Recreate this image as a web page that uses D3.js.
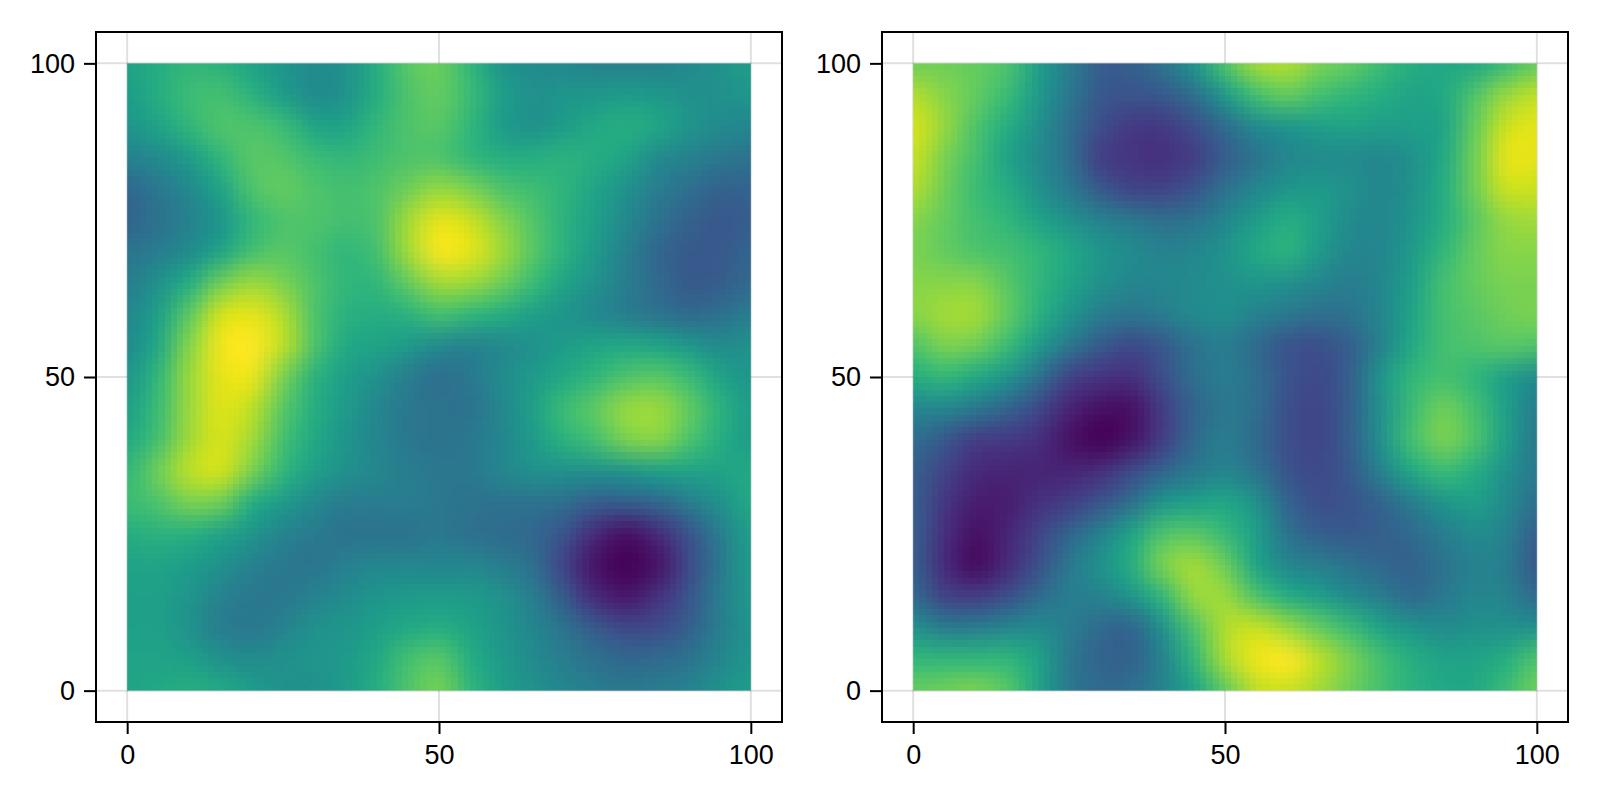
<!DOCTYPE html>
<html><head><meta charset="utf-8">
<script src="https://cdn.jsdelivr.net/npm/d3@7"></script>
<style>html,body{margin:0;padding:0;background:#fff}svg{display:block}</style>
</head><body><svg id="c" width="1600" height="800"></svg>
<script>
const tickLabels=[0,50,100];
// rows from y=100 down to y=0 (step 5), columns x=0..100 (step 5); colour values 0..1
const leftValues=[
[.58,.62,.66,.64,.58,.52,.48,.50,.62,.74,.77,.66,.52,.48,.47,.44,.43,.44,.47,.50,.56],
[.55,.62,.68,.70,.64,.55,.48,.50,.62,.72,.76,.68,.56,.50,.52,.53,.55,.53,.50,.50,.52],
[.52,.58,.66,.72,.72,.68,.58,.58,.66,.72,.74,.66,.55,.50,.55,.60,.62,.59,.52,.48,.46],
[.44,.48,.55,.66,.74,.73,.68,.66,.69,.72,.72,.66,.62,.62,.64,.62,.58,.48,.44,.40,.38],
[.33,.40,.47,.58,.72,.76,.72,.70,.72,.78,.84,.80,.72,.69,.65,.58,.50,.42,.36,.31,.32],
[.32,.37,.44,.52,.66,.72,.72,.70,.72,.86,.96,.92,.82,.73,.64,.56,.47,.38,.31,.27,.29],
[.38,.42,.48,.58,.70,.74,.70,.66,.70,.86,.99,.96,.86,.74,.64,.54,.43,.33,.28,.28,.32],
[.42,.50,.62,.78,.85,.80,.72,.66,.66,.76,.86,.85,.78,.68,.58,.50,.42,.34,.28,.29,.34],
[.46,.56,.75,.93,.96,.88,.72,.64,.62,.64,.70,.66,.62,.56,.52,.47,.42,.38,.34,.36,.42],
[.48,.60,.82,.98,1.0,.90,.72,.60,.58,.54,.47,.44,.47,.50,.55,.58,.60,.58,.53,.48,.50],
[.52,.66,.85,.96,.97,.80,.64,.56,.50,.42,.36,.40,.48,.54,.60,.66,.72,.74,.68,.58,.52],
[.56,.68,.85,.95,.90,.74,.62,.54,.46,.40,.38,.38,.46,.56,.68,.75,.84,.85,.76,.64,.55],
[.60,.70,.86,.94,.86,.70,.60,.52,.46,.40,.38,.40,.46,.54,.64,.70,.80,.82,.72,.62,.55],
[.66,.78,.90,.93,.80,.66,.56,.50,.46,.42,.40,.40,.46,.50,.50,.50,.52,.56,.58,.58,.60],
[.68,.72,.80,.78,.62,.54,.47,.42,.42,.42,.40,.38,.38,.38,.36,.30,.30,.33,.42,.50,.60],
[.62,.64,.63,.58,.52,.45,.41,.38,.38,.38,.40,.37,.35,.33,.26,.12,.04,.12,.25,.42,.56],
[.58,.58,.55,.50,.44,.40,.39,.43,.46,.46,.46,.46,.42,.36,.20,.05,.00,.05,.22,.40,.55],
[.56,.56,.52,.44,.40,.40,.44,.48,.52,.54,.54,.54,.50,.42,.28,.12,.06,.14,.26,.42,.54],
[.56,.56,.50,.42,.40,.44,.50,.52,.56,.60,.62,.58,.52,.46,.38,.28,.22,.23,.30,.42,.52],
[.58,.58,.56,.50,.48,.50,.52,.54,.60,.70,.74,.62,.54,.48,.42,.37,.33,.34,.38,.46,.52],
[.58,.60,.62,.60,.55,.50,.50,.54,.62,.72,.79,.66,.56,.50,.46,.42,.40,.42,.44,.50,.55]];
const rightValues=[
[.78,.78,.76,.72,.56,.42,.30,.30,.38,.52,.72,.86,.88,.80,.76,.68,.62,.60,.60,.68,.76],
[.88,.82,.76,.68,.54,.40,.27,.26,.28,.36,.54,.70,.76,.70,.66,.62,.58,.60,.72,.84,.90],
[.94,.84,.72,.62,.50,.36,.24,.17,.17,.24,.35,.48,.52,.56,.58,.56,.56,.58,.76,.92,.96],
[.92,.80,.70,.58,.48,.36,.18,.15,.14,.18,.29,.38,.46,.48,.48,.46,.50,.60,.78,.96,.96],
[.88,.78,.68,.62,.50,.40,.28,.20,.20,.26,.37,.46,.52,.54,.50,.46,.50,.62,.78,.92,.92],
[.82,.76,.70,.66,.58,.50,.44,.40,.36,.38,.46,.55,.62,.56,.48,.46,.52,.62,.74,.84,.86],
[.80,.76,.72,.70,.66,.60,.52,.48,.44,.46,.51,.60,.64,.54,.46,.46,.54,.66,.76,.82,.82],
[.82,.82,.82,.74,.66,.58,.50,.46,.46,.48,.50,.52,.50,.46,.42,.46,.56,.70,.76,.80,.80],
[.82,.86,.86,.76,.64,.52,.42,.39,.42,.47,.49,.44,.40,.36,.38,.46,.58,.70,.74,.78,.80],
[.72,.80,.78,.68,.54,.40,.28,.22,.27,.38,.42,.34,.26,.24,.30,.44,.60,.70,.72,.74,.72],
[.62,.66,.60,.52,.38,.20,.15,.14,.24,.36,.42,.36,.26,.22,.30,.52,.66,.70,.66,.56,.48],
[.46,.46,.40,.32,.22,.10,.04,.04,.18,.32,.40,.36,.24,.21,.30,.50,.68,.78,.70,.56,.42],
[.36,.27,.18,.17,.14,.05,.00,.05,.18,.34,.42,.34,.24,.21,.30,.50,.70,.80,.72,.56,.40],
[.30,.20,.12,.10,.10,.10,.13,.22,.32,.40,.45,.38,.26,.22,.28,.44,.60,.68,.62,.50,.40],
[.30,.16,.08,.08,.14,.18,.26,.36,.52,.56,.59,.50,.32,.24,.26,.32,.42,.52,.56,.48,.36],
[.30,.14,.04,.10,.20,.32,.44,.58,.72,.74,.67,.56,.38,.30,.28,.30,.34,.42,.48,.44,.30],
[.30,.12,.03,.12,.24,.40,.50,.62,.80,.86,.77,.58,.46,.42,.38,.33,.31,.38,.44,.42,.27],
[.34,.20,.18,.24,.34,.42,.44,.52,.66,.84,.85,.72,.62,.56,.48,.42,.34,.40,.46,.44,.34],
[.50,.42,.42,.46,.48,.42,.34,.32,.50,.72,.88,.92,.85,.76,.68,.58,.52,.48,.50,.50,.50],
[.66,.66,.66,.66,.58,.40,.32,.31,.44,.66,.87,.97,1.0,.90,.80,.70,.62,.58,.58,.62,.72],
[.76,.78,.80,.74,.58,.40,.34,.36,.44,.58,.75,.90,.92,.86,.78,.70,.64,.60,.60,.68,.78]];
const panels=[{values:leftValues,range:[96,782]},{values:rightValues,range:[882,1568]}];
const gridStep=5;

const svg=d3.select('#c');
const yScale=d3.scaleLinear().domain([-5,105]).range([722,32]);
const colour=d3.scaleSequential(d3.interpolateViridis).domain([0,1]);

function renderHeat(values){
  const rows=values.length,cols=values[0].length;
  const small=document.createElement('canvas');small.width=cols;small.height=rows;
  const sc=small.getContext('2d');
  values.forEach((row,j)=>row.forEach((v,i)=>{sc.fillStyle=colour(v);sc.fillRect(i,j,1,1);}));
  const n=(cols-1)*gridStep;
  const big=document.createElement('canvas');big.width=n;big.height=n;
  const bc=big.getContext('2d');
  bc.imageSmoothingEnabled=true;bc.imageSmoothingQuality='high';
  bc.drawImage(small,0.5,0.5,cols-1,rows-1,0,0,n,n);
  return big.toDataURL();
}

panels.forEach(p=>{
  const x=d3.scaleLinear().domain([-5,105]).range(p.range);
  const g=svg.append('g');
  g.selectAll('line.gx').data(tickLabels).join('line').attr('class','gx')
    .attr('x1',d=>x(d)).attr('x2',d=>x(d)).attr('y1',yScale.range()[1]).attr('y2',yScale.range()[0])
    .attr('stroke','#000').attr('stroke-opacity',.12).attr('stroke-width',2);
  g.selectAll('line.gy').data(tickLabels).join('line').attr('class','gy')
    .attr('y1',d=>yScale(d)).attr('y2',d=>yScale(d)).attr('x1',p.range[0]).attr('x2',p.range[1])
    .attr('stroke','#000').attr('stroke-opacity',.12).attr('stroke-width',2);
  g.append('image').attr('href',renderHeat(p.values))
    .attr('x',x(0)).attr('y',yScale(100))
    .attr('width',x(100)-x(0)).attr('height',yScale(0)-yScale(100))
    .attr('preserveAspectRatio','none').style('image-rendering','pixelated');
  const ax=g.append('g').attr('transform',`translate(0,${yScale.range()[0]})`)
    .call(d3.axisBottom(x).tickValues(tickLabels).tickSize(12).tickPadding(11));
  const ay=g.append('g').attr('transform',`translate(${p.range[0]},0)`)
    .call(d3.axisLeft(yScale).tickValues(tickLabels).tickSize(12).tickPadding(9));
  [ax,ay].forEach(a=>{
    a.select('.domain').remove();
    a.selectAll('.tick line').attr('stroke','#000').attr('stroke-width',2);
    a.selectAll('.tick text').attr('fill','#000').style('font-family','"Liberation Sans",Arial,sans-serif').style('font-size','27px');
  });
  g.append('rect').attr('x',p.range[0]).attr('y',yScale.range()[1])
    .attr('width',p.range[1]-p.range[0]).attr('height',yScale.range()[0]-yScale.range()[1])
    .attr('fill','none').attr('stroke','#000').attr('stroke-width',2);
});
</script></body></html>
